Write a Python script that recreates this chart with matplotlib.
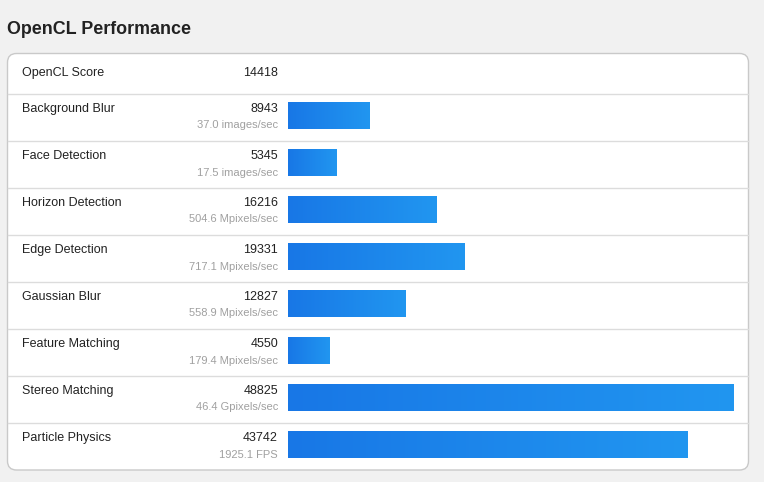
import numpy as np
import matplotlib
matplotlib.use("Agg")
import matplotlib.pyplot as plt
from matplotlib.patches import FancyBboxPatch
from matplotlib.colors import LinearSegmentedColormap

plt.rcParams['font.family'] = ['Liberation Sans', 'DejaVu Sans']

title = "OpenCL Performance"
overall_label = "OpenCL Score"
overall_score = 14418
categories = ["Background Blur", "Face Detection", "Horizon Detection", "Edge Detection",
              "Gaussian Blur", "Feature Matching", "Stereo Matching", "Particle Physics"]
scores = [8943, 5345, 16216, 19331, 12827, 4550, 48825, 43742]
rates = ["37.0 images/sec", "17.5 images/sec", "504.6 Mpixels/sec", "717.1 Mpixels/sec",
         "558.9 Mpixels/sec", "179.4 Mpixels/sec", "46.4 Gpixels/sec", "1925.1 FPS"]

W, H = 764, 482
fig = plt.figure(figsize=(W / 100, H / 100), dpi=100)
fig.patch.set_facecolor('#f1f1f1')

ax = fig.add_axes([0, 0, 1, 1])
ax.set_xlim(0, W)
ax.set_ylim(H, 0)
ax.axis('off')

# title
ax.text(7, 29.5, title, fontsize=12.9, fontweight='bold', color='#222222', va='center', ha='left')

# card
card = FancyBboxPatch((7.5, 53.5), 741, 416.5, boxstyle="round,pad=0,rounding_size=9",
                      facecolor='white', edgecolor='#c9c9c9', linewidth=1.0)
ax.add_patch(card)

row0 = 94
rh = 47
# separators
for i in range(len(categories)):
    y = row0 + rh * i
    ax.plot([8, 748], [y, y], color='#dcdcdc', lw=1.0)

# header row
ax.text(22, 73, overall_label, fontsize=9, color='#222222', va='center', ha='left')
ax.text(278, 73, str(overall_score), fontsize=9, color='#222222', va='center', ha='right')

for i, (c, s, r) in enumerate(zip(categories, scores, rates)):
    top = row0 + rh * i
    ax.text(22, top + 15, c, fontsize=9, color='#222222', va='center', ha='left')
    ax.text(278, top + 15, str(s), fontsize=9, color='#222222', va='center', ha='right')
    ax.text(278, top + 31.5, r, fontsize=8, color='#a0a0a0', va='center', ha='right')

# bar axes sharing pixel y, data x
x0_px, x1_px = 288, 734
smax = max(scores)
k = smax / (x1_px - x0_px)
bax = fig.add_axes([0, 0, 1, 1])
bax.set_xlim(-x0_px * k, (W - x0_px) * k)
bax.set_ylim(H, 0)
bax.axis('off')
bax.patch.set_alpha(0)

centers = [row0 + rh * i + 21.5 for i in range(len(categories))]
bars = bax.barh(centers, scores, height=27, left=0, color='#1a7ee8', edgecolor='none')

grad = np.linspace(0, 1, 256).reshape(1, -1)
cmap = LinearSegmentedColormap.from_list('g', ['#1877e6', '#2196f0'])
for b in bars:
    x, y, w, h = b.get_x(), b.get_y(), b.get_width(), b.get_height()
    im = bax.imshow(grad, extent=(x, x + w, y + h, y), cmap=cmap, aspect='auto', zorder=3)
    im.set_clip_path(b)

bax.set_xlim(-x0_px * k, (W - x0_px) * k)
bax.set_ylim(H, 0)

fig.savefig('out.png', dpi=100, facecolor=fig.get_facecolor())
